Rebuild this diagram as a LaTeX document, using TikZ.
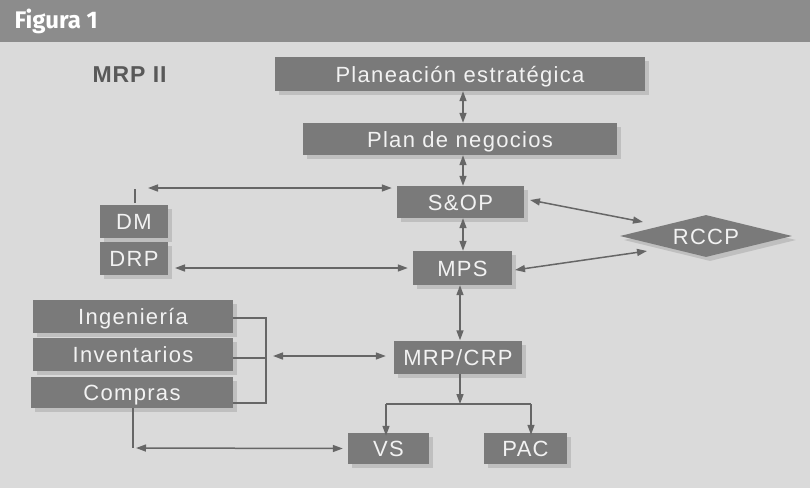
\documentclass[tikz,border=0pt]{standalone}
\usepackage{fontspec}
\setmainfont{Liberation Sans}
\newfontfamily\boxfont[LetterSpace=6]{Liberation Sans}
\newfontfamily\titlefont[LetterSpace=4]{Liberation Sans}
\newfontfamily\figfont{Fira Sans}
\usetikzlibrary{shapes.geometric,arrows.meta,shadows}
\definecolor{bg}{HTML}{DADADA}
\definecolor{hdr}{HTML}{8C8C8C}
\definecolor{boxgray}{HTML}{7A7A7A}
\definecolor{linegray}{HTML}{666666}
\definecolor{txtw}{HTML}{F2F2F2}
\tikzset{
  blk/.style={rectangle, fill=boxgray, text=txtw, inner sep=0pt,
    text height=16.5pt, text depth=0pt,
    font=\boxfont\fontsize{22}{22}\selectfont,
    drop shadow={shadow xshift=4pt, shadow yshift=-4pt, fill=black, opacity=.12}},
  conn/.style={draw=linegray, line width=1.5pt},
  dbl/.style={conn, {Triangle[length=10pt,width=7pt]}-{Triangle[length=10pt,width=7pt]}},
  one/.style={conn, -{Triangle[length=10pt,width=7pt]}},
}
\begin{document}
\begin{tikzpicture}[x=1pt,y=-1pt]
\useasboundingbox (0,0) rectangle (810,488);
\fill[bg] (0,0) rectangle (810,488);
\fill[hdr] (0,0) rectangle (810,42);
\node[anchor=west, text=white, font=\figfont\bfseries\fontsize{24}{24}\selectfont] (fig) at (11,21) {Figura 1};
\node[anchor=west, text=black!65, font=\titlefont\bfseries\fontsize{23}{23}\selectfont] (mrpii) at (89,75) {MRP II};

\node[blk, minimum width=370pt, minimum height=34pt] (pe) at (460,74) {Planeación estratégica};
\node[blk, minimum width=314pt, minimum height=32pt] (pn) at (460,139) {Plan de negocios};
\node[blk, minimum width=127pt, minimum height=32pt] (sop) at (460.5,202) {S\&OP};
\node[blk, minimum width=99pt, minimum height=34pt] (mps) at (462.5,268) {MPS};
\node[blk, minimum width=128pt, minimum height=33pt] (mrp) at (458,357) {MRP/CRP};
\node[blk, minimum width=81pt, minimum height=31pt] (vs) at (388.5,448.5) {VS};
\node[blk, minimum width=83pt, minimum height=31pt] (pac) at (525.5,448.5) {PAC};
\node[blk, minimum width=68pt, minimum height=33pt] (dm) at (134,221.5) {DM};
\node[blk, minimum width=68pt, minimum height=33pt] (drp) at (134,258.5) {DRP};
\node[blk, minimum width=200pt, minimum height=33pt] (ing) at (133,316.5) {Ingeniería};
\node[blk, minimum width=200pt, minimum height=33pt] (inv) at (133,354.5) {Inventarios};
\node[blk, minimum width=202pt, minimum height=31pt] (com) at (132,392.5) {Compras};
\node[blk, diamond, aspect=4, minimum width=172pt, minimum height=42pt] (rccp) at (706,236) {RCCP};

% vertical spine
\draw[dbl] ([xshift=3pt]pe.south) -- ([xshift=3pt]pn.north);
\draw[dbl] ([xshift=3pt]pn.south) -- ([xshift=2.5pt]sop.north);
\draw[dbl] ([xshift=2.5pt]sop.south) -- ([xshift=0.5pt]mps.north);
\draw[dbl] ([xshift=-2.5pt]mps.south) -- ([xshift=2pt]mrp.north);

% DM / DRP
\coordinate (tickb) at (135,203);
\coordinate (tickt) at (135,189);
\draw[conn] (tickb) -- (tickt);
\coordinate (dmarr) at (148,188);
\draw[dbl] (dmarr) -- ([xshift=-5pt]sop.west |- dmarr);
\coordinate (drparr) at (175,268);
\draw[dbl] (drparr) -- ([xshift=-5pt]mps.west);

% RCCP
\coordinate (s1) at (530,200);
\coordinate (r1) at (643,222);
\draw[dbl] (s1) -- (r1);
\coordinate (m1) at (515,270);
\draw[dbl] (m1) -- (647,251) coordinate (r2);

% bracket
\coordinate (b1) at (266,318);
\coordinate (b2) at (266,358);
\coordinate (b3) at (266,403);
\draw[conn] (ing.east |- b1) -- (b1) -- (b3) -- (com.east |- b3);
\draw[conn] (inv.east |- b2) -- (b2);
\coordinate (barr) at (273,356);
\draw[dbl] (barr) -- ([xshift=-8pt]mrp.west |- barr);

% MRP to VS / PAC
\coordinate (j) at (460,404);
\coordinate (jl) at (386,404);
\coordinate (jr) at (531,404);
\draw[one] ([xshift=2pt]mrp.south) -- (j);
\draw[conn] (jl) -- (jr);
\draw[one] (jl) -- ([yshift=-3pt]vs.north -| jl);
\draw[one] (jr) -- ([yshift=-2pt]pac.north -| jr);

% Compras to VS
\coordinate (c1) at (133,448);
\draw[conn] (com.south -| c1) -- (c1);
\draw[dbl] ([xshift=3pt]c1) -- ([xshift=-5pt]vs.west);
\end{tikzpicture}
\end{document}
